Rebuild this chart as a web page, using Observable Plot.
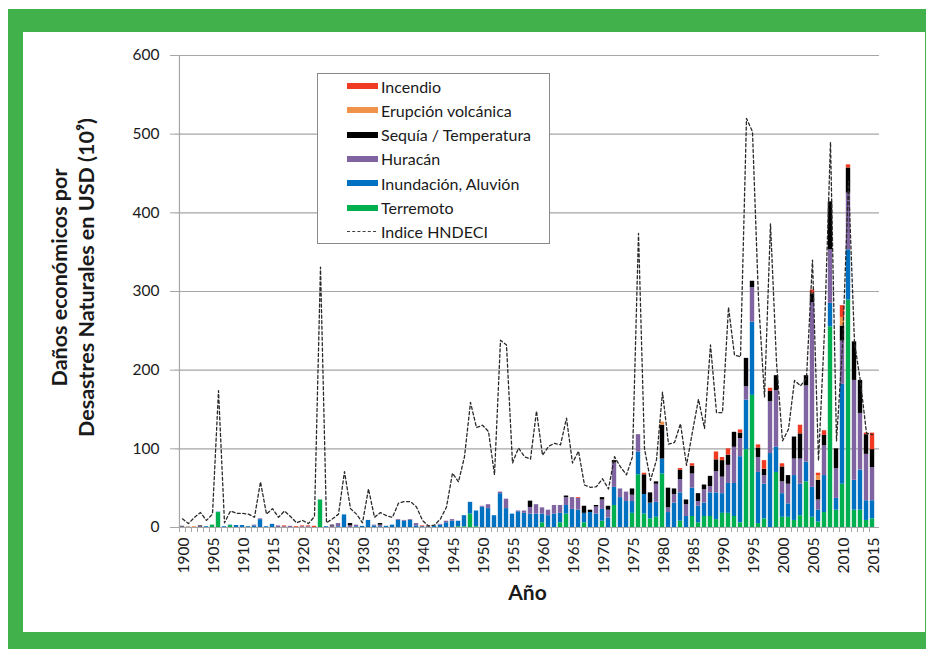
<!DOCTYPE html>
<html>
<head>
<meta charset="utf-8">
<script src="https://cdn.jsdelivr.net/npm/d3@7"></script>
<script src="https://cdn.jsdelivr.net/npm/@observablehq/plot@0.6"></script>
<style>
html,body{margin:0;padding:0;background:#fff;overflow:hidden;}
#wrap{position:relative;width:926px;height:649px;overflow:hidden;font-family:Lato,"Open Sans",sans-serif;}
#frame{position:absolute;left:8px;top:9px;width:940px;height:660px;background:#41b14c;}
#inner{position:absolute;left:23px;top:32px;width:902px;height:600px;background:#fff;}
#chart{position:absolute;left:0;top:0;}
#legend{position:absolute;left:317px;top:73px;width:231px;height:169px;border:1px solid #8a8a8a;background:#fff;}
.row{position:absolute;left:29px;height:20px;display:flex;align-items:center;font-size:16px;color:#1a1a1a;white-space:nowrap;}
.sw{width:31px;height:6px;margin-right:3px;}
.dash{width:29px;height:0;border-top:1px dashed #404040;margin-right:5px;}
</style>
</head>
<body>
<div id="wrap">
  <div id="frame"></div>
  <div id="inner"></div>
  <div id="chart"></div>
  <div id="legend"></div>
</div>
<script>
const years = d3.range(1900, 2016);

const categories = ["Terremoto", "Inundación, Aluvión", "Huracán", "Sequía / Temperatura", "Erupción volcánica", "Incendio"];
const colors = ["#00b050", "#0070c0", "#8064a2", "#000000", "#f0924a", "#f03a22"];

const terremoto = [
  0,0,0,0,0,3,19,0,2.5,0,
  0,0,0,0,0,0,0,0,0,0,
  0,0,0,35,0,0,0,0,0,0,
  0,0,0,0,0,0,0,0,0,0,
  0,0,0,0,0,0,1,1,17,1,
  0,0,0,0,0,0,0,0,0,0,
  6,0,0,6,17,0,0,6,0,0,
  8,0,28,0,0,18,67,17,11,13,
  68,0,0,8,0,14,6,14,14,10,
  18,18,14,6,99,168,5,11,0,70,
  13,13,9,15,58,13,7,19,255,22,
  55,289,22,22,9,11];

const inundacion = [
  0,0.5,0,0,1,0,0.5,1,0.5,2.5,
  2.5,1,2,10,1,4,0,0,0,0,
  0,0,0,0,1,0,1,16,0,1,
  1.5,9,2,1,1.5,3,9,8,9,2,
  1,1,2,3,6,8,7,14,15,20,
  26,24,15,43,24,17,20,18,17,17,
  11,15,17,12,11,23,22,12,19,17,
  15,12,23,38,33,15,29,25,20,19,
  19,19,31,36,14,36,21,17,30,34,
  25,38,42,84,63,93,65,44,94,32,
  30,17,57,40,25,38,15,47,30,15,
  127,64,38,51,25,23];

const huracan = [
  1,0,0,1,0,0,0,0,0,0,
  0,0,1,1,0,0,2,1,1.5,0,
  1,1,0,0,0,2,4,0,2,2,
  0,0,1,2,0,0,1,1,1,3,
  0,0,0,1,2,2,0,0,0,0,
  1,5,0,2,12,0,1,3,8.5,12,
  8,7,11,10,10,15,15,0,0,9,
  12,10,31,11,12,8,22,0,0,23,
  0,6,11,17,15,18,6,17,8,27,
  21,23,46,23,17,44,19,11,66,72,
  15,25,21,32,97,235,13,38,68,38,
  55,72,127,72,59,42];

const sequia = [
  0.5,0,0,1,0,0,0,0,0,0,
  0,0,0,0,0,0,0,0,0,0,
  0,0,0,0,0,1,0,0,3,0,
  0,0,0,2,0,0,0,0,0,0,
  0,0,0,0,0,0,0,0,0,0,
  0,0,0,0,0,0,0,0,8,0,
  0,0,0,0,2,0,0,9,3,2,
  3,5,3,0,0,8,0,25,13,3,
  43,25,7,12,6,10,10,6,13,15,
  21,13,19,7,36,8,12,8,13,19,
  19,11,28,32,13,11,25,13,61,25,
  19,32,49,42,25,23];

const erupcion = [
  0,0.5,1,0,0,0,0,0,0,0,
  0,0,0,0,0,0,0,0,0,0,
  0,0,0,0,0,0,0,0,0,0,
  0,0,0,0,0,0,0,0,0,0,
  0,0,0,0,0,0,0,0,0,0,
  0,0,0,0,0,0,0,0,0,0,
  0,0,0,0,0,0,0,0,0,0,
  0,0,0,0,0,0,0,0,0,0,
  4,0,0,0,0,0,0,0,0,0,
  0,0,0,0,0,0,0,0,0,0,
  0,0,0,0,0,0,6,0,0,0,
  11,0,0,0,0,0];

const incendio = [
  0,0,0,0,0,0,0,0,0,0,
  0,0,0,0,0,0,0,1,0,1,
  1,1,1.5,0,0,0,0,0,0,0,
  0,0,0,0,0,0,0,0,0,0,
  1,1,0,0,0,0,0,0,0,0,
  0,0,0,0,0,0,0,0,0,0,
  0,0,0,0,0,0,1,0,0,0,
  0,0,0,0,0,0,0,2,0,0,
  0,0,0,2,0,3,0,0,0,10,
  4,8,0,4,0,0,4,11,4,0,
  4,0,0,11,0,5,3,6,0,0,
  15,4,0,0,2,21];

const hndeci = [
  11,5,13,19,9,17,174,6,21,18,
  18,17,13,58,17,24,13,21,14,6,
  9,5,14,331,6,11,17,71,24,17,
  6,49,13,19,15,13,31,33,33,26,
  9,2,3,11,26,69,58,90,159,127,
  130,122,67,238,232,82,101,90,87,148,
  92,103,107,105,139,82,97,54,51,52,
  62,49,90,77,67,90,374,100,60,86,
  172,106,108,132,79,122,163,126,232,146,
  146,280,219,217,520,503,290,166,386,210,
  110,125,187,180,190,340,85,250,490,110,
  230,440,235,185,120,118];

const yTicks = [0, 100, 200, 300, 400, 500, 600];
const xLabelTicks = years.filter(y => y % 5 === 0);

const series = [terremoto, inundacion, huracan, sequia, erupcion, incendio];
const bars = [];
categories.forEach((c, i) => years.forEach((yr, j) => bars.push({year: yr, cat: c, value: series[i][j]})));
const line = years.map((yr, j) => ({year: yr, v: hndeci[j]}));

const W = 926, H = 649, ML = 175, MR = 47, MT = 55, MB = 122;
const bw = (W - ML - MR) / years.length;
const grid = "#a6a6a6";

const chart = Plot.plot({
  width: W, height: H,
  marginLeft: ML, marginRight: MR, marginTop: MT, marginBottom: MB,
  style: {background: "transparent", fontFamily: "Lato, 'Open Sans', sans-serif", color: "#1a1a1a"},
  x: {type: "band", domain: years, padding: 0},
  y: {domain: [0, 600]},
  color: {domain: categories, range: colors},
  marks: [
    Plot.gridY(yTicks.slice(1), {stroke: grid, strokeOpacity: 1, strokeWidth: 1.2}),
    Plot.barY(bars, {x: "year", y: "value", fill: "cat", order: categories, insetLeft: 0.8, insetRight: 0.8}),
    Plot.lineY(line, {x: "year", y: "v", stroke: "#2a2a2a", strokeWidth: 1.3, strokeDasharray: "3,2.5"}),
    Plot.ruleY([0], {stroke: grid, strokeWidth: 1.2}),
    Plot.ruleX([years[0]], {dx: -bw / 2, stroke: grid, strokeWidth: 1.2}),
    Plot.axisY({ticks: yTicks, tickSize: 5, tickPadding: 11, stroke: grid, fontSize: 15.5, label: null, tickFormat: d => String(d)}),
    Plot.axisX({tickSize: 5, dx: -bw / 2, stroke: grid, tickFormat: () => "", label: null}),
    Plot.axisX({ticks: xLabelTicks, tickSize: 0, tickPadding: 10, tickRotate: -90, dx: 2, fontSize: 15.5, label: null, tickFormat: d => String(d)}),
    Plot.text(["Daños económicos por\nDesastres Naturales en USD (10⁹)"], {frameAnchor: "left", rotate: -90, dx: -104, dy: -14, fontSize: 21.5, fontWeight: "bold", lineHeight: 1.25, textAnchor: "middle", fill: "#1a1a1a"}),
    Plot.text(["Año"], {frameAnchor: "bottom", dy: 72, fontSize: 21, fontWeight: "bold", fill: "#1a1a1a"})
  ]
});
document.getElementById("chart").appendChild(chart);

// Legend
const legendItems = [
  {label: "Incendio", color: colors[5]},
  {label: "Erupción volcánica", color: colors[4]},
  {label: "Sequía / Temperatura", color: colors[3]},
  {label: "Huracán", color: colors[2]},
  {label: "Inundación, Aluvión", color: colors[1]},
  {label: "Terremoto", color: colors[0]},
  {label: "Indice HNDECI", color: null}
];
const legend = document.getElementById("legend");
legendItems.forEach((it, i) => {
  const row = document.createElement("div");
  row.className = "row";
  row.style.top = (2 + i * 24.3) + "px";
  const sw = document.createElement("div");
  if (it.color) { sw.className = "sw"; sw.style.background = it.color; }
  else { sw.className = "dash"; }
  const tx = document.createElement("span");
  tx.textContent = it.label;
  row.appendChild(sw); row.appendChild(tx);
  legend.appendChild(row);
});
</script>
</body>
</html>
